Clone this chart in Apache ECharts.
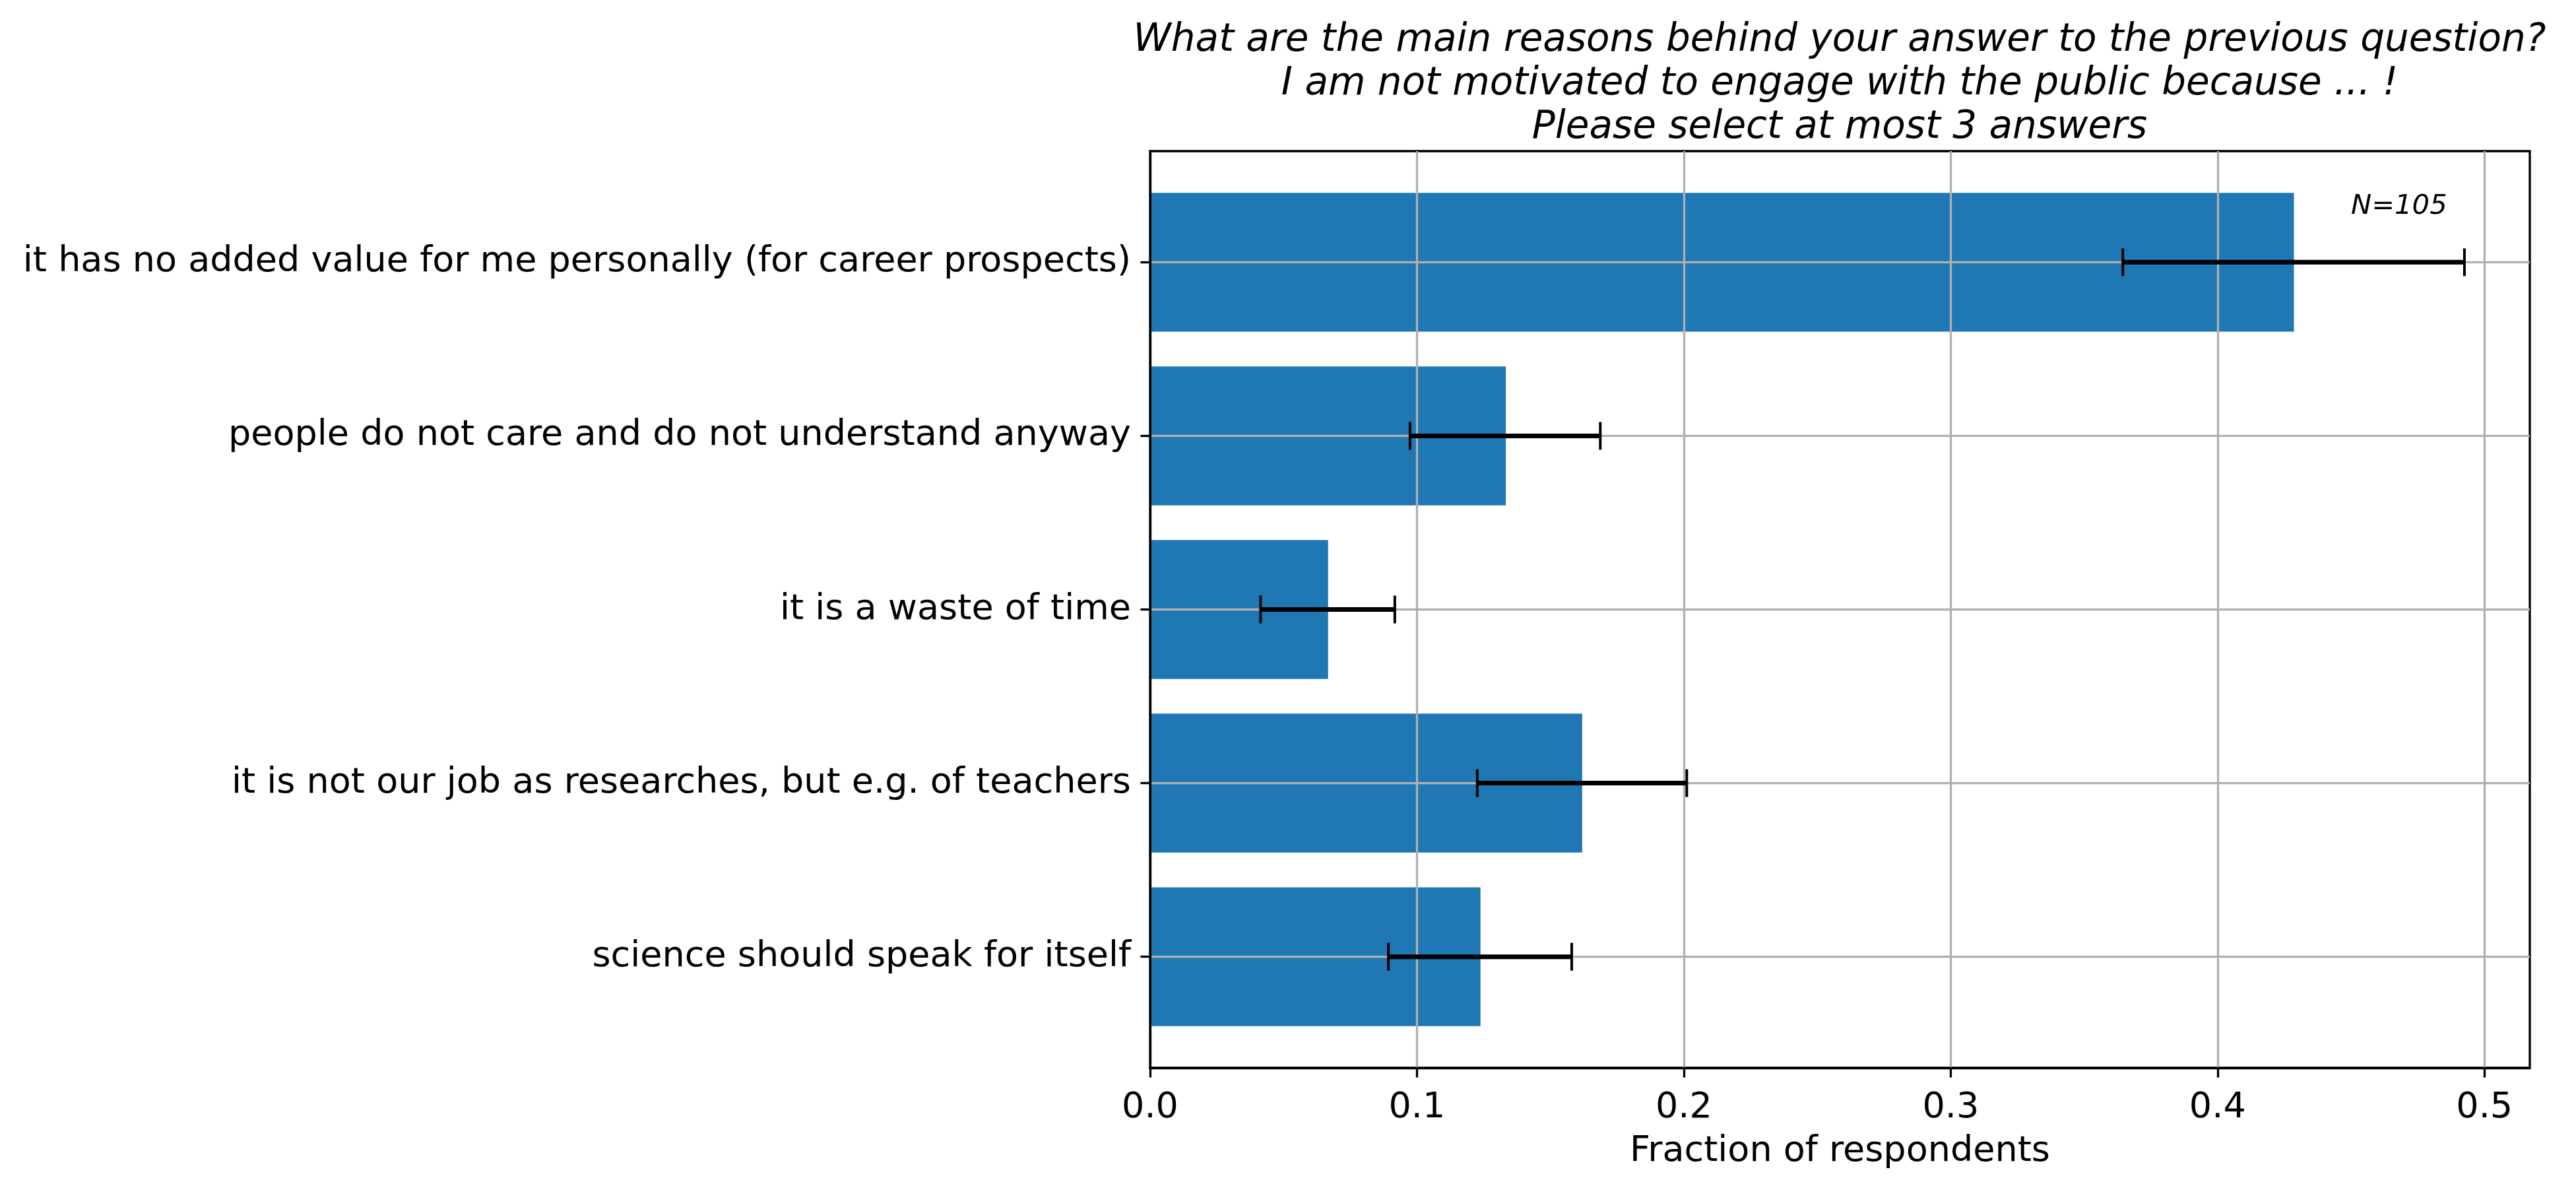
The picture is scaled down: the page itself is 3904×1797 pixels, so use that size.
<!DOCTYPE html>
<html>
<head>
<meta charset="utf-8">
<script src="https://cdn.jsdelivr.net/npm/echarts@6/dist/echarts.min.js"></script>
<style>
  html, body { margin: 0; padding: 0; background: #fff; }
  #chart { width: 3904px; height: 1797px; }
</style>
</head>
<body>
<div id="chart"></div>
<script>
const categories = [
  'it has no added value for me personally (for career prospects)',
  'people do not care and do not understand anyway',
  'it is a waste of time',
  'it is not our job as researches, but e.g. of teachers',
  'science should speak for itself'
];
const fractions = [0.4286, 0.1333, 0.0667, 0.1619, 0.1238];
const errLow = [0.3645, 0.0974, 0.0414, 0.1226, 0.0893];
const errHigh = [0.4925, 0.1687, 0.0917, 0.2011, 0.158];
const xTicks = [0, 0.1, 0.2, 0.3, 0.4, 0.5];
const titleLines = [
  'What are the main reasons behind your answer to the previous question?',
  'I am not motivated to engage with the public because ... !',
  'Please select at most 3 answers'
];
const noteText = 'N=105';
const notePos = [0.468, -0.32];

const FONT = 'DejaVu Sans';
const catIdx = categories.map((c, i) => i);

const chart = echarts.init(document.getElementById('chart'));

// bar + its horizontal grid line (grid sits on top of the bars)
function renderBar(params, api) {
  const i = api.value(1);
  const v = api.value(0);
  const a = api.coord([0, i - 0.4]);
  const b = api.coord([v, i + 0.4]);
  const cs = params.coordSys;
  const yc = api.coord([0, i])[1];
  return {
    type: 'group',
    children: [
      { type: 'rect',
        shape: { x: a[0], y: Math.min(a[1], b[1]), width: b[0] - a[0], height: Math.abs(b[1] - a[1]) },
        style: { fill: '#1f77b4' } },
      { type: 'line',
        shape: { x1: cs.x, y1: yc, x2: cs.x + cs.width, y2: yc },
        style: { stroke: '#b0b0b0', lineWidth: 3.3 } }
    ]
  };
}

function renderErr(params, api) {
  const i = api.value(0);
  const lo = api.coord([api.value(1), i]);
  const hi = api.coord([api.value(2), i]);
  const cap = 21;
  return {
    type: 'group',
    children: [
      { type: 'line', shape: { x1: lo[0], y1: lo[1], x2: hi[0], y2: hi[1] },
        style: { stroke: '#000', lineWidth: 7 } },
      { type: 'line', shape: { x1: lo[0], y1: lo[1] - cap, x2: lo[0], y2: lo[1] + cap },
        style: { stroke: '#000', lineWidth: 4 } },
      { type: 'line', shape: { x1: hi[0], y1: hi[1] - cap, x2: hi[0], y2: hi[1] + cap },
        style: { stroke: '#000', lineWidth: 4 } }
    ]
  };
}

function renderNote(params, api) {
  const p = api.coord([api.value(0), api.value(1)]);
  return {
    type: 'text',
    x: p[0], y: p[1],
    style: { text: noteText, align: 'center', verticalAlign: 'middle',
             fontSize: 41.7, fontStyle: 'italic', fontFamily: FONT, fill: '#000' }
  };
}

const option = {
  animation: false,
  backgroundColor: '#fff',
  title: {
    text: titleLines.join('\n'),
    left: 2788,
    top: 29,
    padding: 0,
    textAlign: 'center',
    textStyle: { fontSize: 58, fontStyle: 'italic', fontWeight: 'normal',
                 fontFamily: FONT, color: '#000', lineHeight: 66 }
  },
  grid: {
    left: 1743, right: 70, top: 229, bottom: 179,
    show: true, borderColor: '#000', borderWidth: 3.3, backgroundColor: 'transparent'
  },
  xAxis: {
    type: 'value', min: 0, max: 0.517, interval: 0.1, z: 3,
    name: 'Fraction of respondents',
    nameLocation: 'middle', nameGap: 100,
    nameTextStyle: { fontSize: 54, fontFamily: FONT, color: '#000' },
    axisLine: { show: true, onZero: false, lineStyle: { color: '#000', width: 3.3 } },
    axisTick: { show: true, length: 14.6, customValues: xTicks, lineStyle: { color: '#000', width: 3.3 } },
    axisLabel: { fontSize: 54, fontFamily: FONT, color: '#000', margin: 34,
                 customValues: xTicks, formatter: v => v.toFixed(1) },
    splitLine: { show: true, lineStyle: { color: '#b0b0b0', width: 3.3 } }
  },
  yAxis: {
    type: 'value', inverse: true, min: -0.64, max: 4.64, z: 6,
    axisLine: { show: true, onZero: false, lineStyle: { color: '#000', width: 3.3 } },
    axisTick: { show: true, length: 14.6, customValues: catIdx, lineStyle: { color: '#000', width: 3.3 } },
    axisLabel: { fontSize: 54, fontFamily: FONT, color: '#000', margin: 29, padding: [10, 0, 0, 0],
                 customValues: catIdx, formatter: v => categories[Math.round(v)] },
    splitLine: { show: false }
  },
  series: [
    { type: 'custom', z: 2, renderItem: renderBar,
      encode: { x: 0, y: 1 },
      data: fractions.map((v, i) => [v, i]) },
    { type: 'custom', z: 5, renderItem: renderErr,
      encode: { x: [1, 2], y: 0 },
      data: catIdx.map(i => [i, errLow[i], errHigh[i]]) },
    { type: 'custom', z: 5, renderItem: renderNote,
      encode: { x: 0, y: 1 },
      data: [notePos] }
  ]
};

chart.setOption(option);
</script>
</body>
</html>
